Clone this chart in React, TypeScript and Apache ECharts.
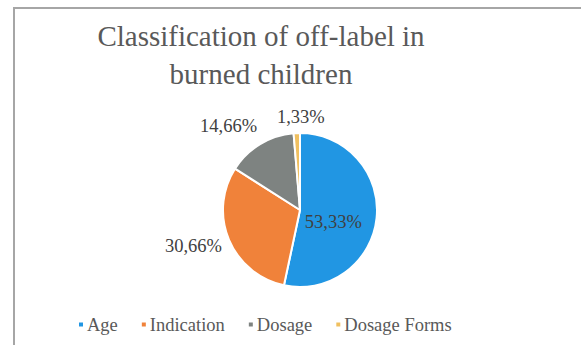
import React, { useEffect, useRef } from "react";
import * as echarts from "echarts";

const categories = ["Age", "Indication", "Dosage", "Dosage Forms"];
const values = [53.33, 30.66, 14.66, 1.33];
const colors = ["#2196e3", "#f0823a", "#7e8381", "#f0c060"];
const titleLines = ["Classification of off-label in", "burned children"];

const labelOffsets: [number, number][] = [
  [-8, 8],
  [-2, 6],
  [2, -18],
  [33, -16],
];

export default function App() {
  const ref = useRef<HTMLDivElement>(null);
  useEffect(() => {
    document.body.style.margin = "0";
    const chart = echarts.init(ref.current!, undefined, { renderer: "svg" });
    const font = '"Liberation Serif", "Times New Roman", Times, serif';
    chart.setOption({
      animation: false,
      backgroundColor: "#ffffff",
      textStyle: { fontFamily: font },
      title: {
        text: titleLines.join("\n"),
        left: 256,
        top: 12,
        textAlign: "center",
        textStyle: {
          fontFamily: font,
          fontSize: 29,
          fontWeight: "normal",
          color: "#595959",
          lineHeight: 38,
        },
      },
      legend: {
        data: categories,
        left: 72,
        top: 310,
        icon: "rect",
        itemWidth: 6,
        itemHeight: 6,
        itemGap: 22,
        textStyle: { fontFamily: font, fontSize: 18.5, color: "#595959", padding: [0, 0, 0, -2] },
      },
      graphic: [
        {
          type: "rect",
          shape: { x: 14, y: 8, width: 620, height: 400 },
          style: { fill: "none", stroke: "#a6a6a6", lineWidth: 2 },
          silent: true,
        },
      ],
      series: [
        {
          type: "pie",
          center: [300, 210],
          radius: 77,
          startAngle: 90,
          clockwise: true,
          avoidLabelOverlap: false,
          itemStyle: { borderColor: "#ffffff", borderWidth: 2 },
          labelLine: { show: false, length: 0, length2: 0 },
          label: {
            fontFamily: font,
            fontSize: 18.5,
            color: "#404040",
            formatter: (p: any) => values[p.dataIndex].toFixed(2).replace(".", ",") + "%",
          },
          data: categories.map((name, i) => ({
            name,
            value: values[i],
            itemStyle: { color: colors[i] },
            label: {
              position: i === 0 ? "inside" : "outside",
              offset: labelOffsets[i],
            },
          })),
        },
      ],
    });
    return () => chart.dispose();
  }, []);
  return <div ref={ref} style={{ width: 581, height: 345 }} />;
}
